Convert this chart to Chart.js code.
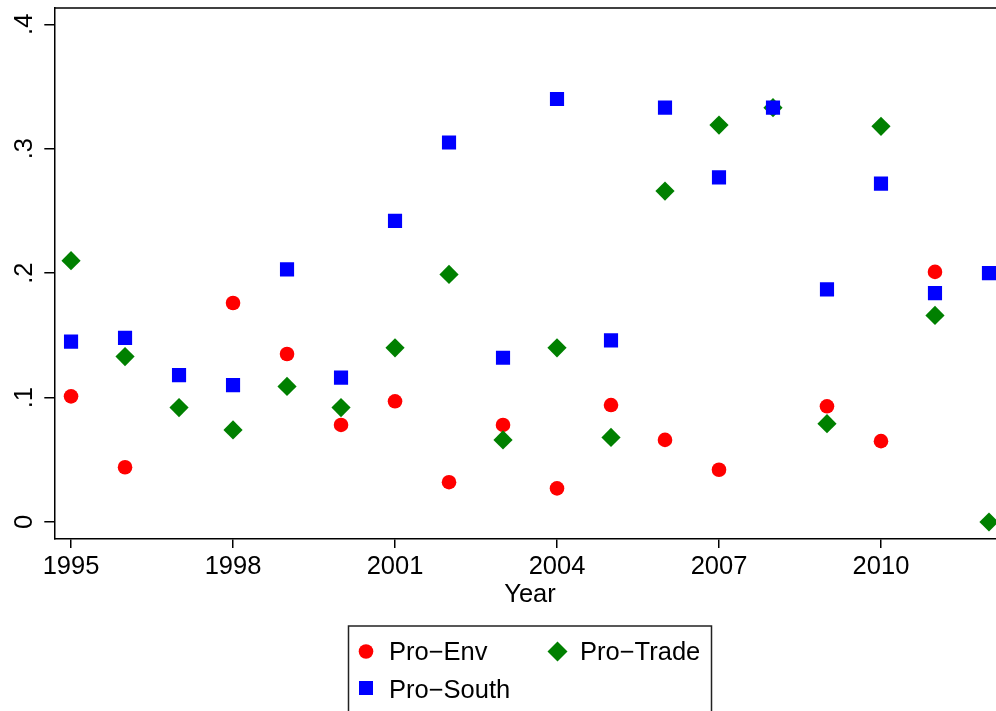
<!DOCTYPE html>
<html><head><meta charset="utf-8">
<script src="https://cdn.jsdelivr.net/npm/chart.js@4"></script>
<style>html,body{margin:0;padding:0;background:#fff;overflow:hidden}#wrap{width:996px;height:711px;position:relative}</style>
</head><body><div id="wrap"><canvas id="c" width="996" height="711"></canvas></div>
<script>
const years = [1995,1996,1997,1998,1999,2000,2001,2002,2003,2004,2005,2006,2007,2008,2009,2010,2011,2012];
const proEnv   = [0.101,0.044,null,0.176,0.135,0.078,0.097,0.032,0.078,0.027,0.094,0.066,0.042,null,0.093,0.065,0.201,null];
const proTrade = [0.210,0.133,0.092,0.074,0.109,0.092,0.140,0.199,0.066,0.140,0.068,0.266,0.319,0.333,0.079,0.318,0.166,0.000];
const proSouth = [0.145,0.148,0.118,0.110,0.203,0.116,0.242,0.305,0.132,0.340,0.146,0.333,0.277,0.333,0.187,0.272,0.184,0.200];
const xTicks = [1995,1998,2001,2004,2007,2010];
const yTicks = [0,0.1,0.2,0.3,0.4];
const yTickLabels = ['0','.1','.2','.3','.4'];
const seriesNames = ['Pro\u2212Env','Pro\u2212Trade','Pro\u2212South'];
const xTitle = 'Year';

const FONT = '"Liberation Sans", Arial, Helvetica, sans-serif';
const FS = 25.5;
const RED = '#ff0000', GREEN = '#008000', BLUE = '#0000ff';

function pts(arr){ return years.map((y,i)=>({x:y,y:arr[i]})).filter(p=>p.y!==null); }

const deco = {
  id:'deco',
  afterDraw(chart){
    const ctx = chart.ctx, a = chart.chartArea, ys = chart.scales.y;
    ctx.save();
    ctx.strokeStyle = '#000'; ctx.lineWidth = 1.5;
    ctx.beginPath(); ctx.moveTo(a.left, a.top); ctx.lineTo(chart.width+5, a.top); ctx.stroke();
    ctx.fillStyle = '#000';
    ctx.font = FS + 'px ' + FONT;
    ctx.textAlign = 'center'; ctx.textBaseline = 'alphabetic';
    yTicks.forEach((v,i)=>{
      const y = ys.getPixelForValue(v);
      ctx.save(); ctx.translate(32, y); ctx.rotate(-Math.PI/2);
      ctx.fillText(yTickLabels[i], 0, 0); ctx.restore();
    });
    ctx.textAlign = 'center';
    ctx.fillText(xTitle, 530, 602);
    ctx.lineWidth = 1.5; ctx.strokeStyle = '#222';
    ctx.strokeRect(348.5, 626, 363, 200);
    ctx.textAlign = 'left';
    ctx.fillStyle = RED; ctx.beginPath(); ctx.arc(366, 651.5, 7.3, 0, Math.PI*2); ctx.fill();
    ctx.fillStyle = '#000'; ctx.fillText(seriesNames[0], 389, 660);
    ctx.fillStyle = GREEN; ctx.beginPath();
    ctx.moveTo(557.5, 641.5); ctx.lineTo(567.5, 651.5); ctx.lineTo(557.5, 661.5); ctx.lineTo(547.5, 651.5); ctx.closePath(); ctx.fill();
    ctx.fillStyle = '#000'; ctx.fillText(seriesNames[1], 580, 660);
    ctx.fillStyle = BLUE; ctx.fillRect(359, 681, 14, 14);
    ctx.fillStyle = '#000'; ctx.fillText(seriesNames[2], 389, 698);
    ctx.restore();
  }
};

new Chart(document.getElementById('c'), {
  type:'scatter',
  data:{ datasets:[
    {label:seriesNames[0], data:pts(proEnv), pointStyle:'circle', pointRadius:7.3, backgroundColor:RED, borderColor:RED, borderWidth:0, order:3},
    {label:seriesNames[1], data:pts(proTrade), pointStyle:'rectRot', pointRadius:9.6, backgroundColor:GREEN, borderColor:GREEN, borderWidth:0, order:2},
    {label:seriesNames[2], data:pts(proSouth), pointStyle:'rect', pointRadius:10, backgroundColor:BLUE, borderColor:BLUE, borderWidth:0, order:1}
  ]},
  options:{
    responsive:false, animation:false, devicePixelRatio:1,
    layout:{autoPadding:false, padding:{top:8,left:0,right:0,bottom:0}},
    plugins:{legend:{display:false}, tooltip:{enabled:false}},
    scales:{
      x:{type:'linear', min:1994.69, max:2012.13,
        afterBuildTicks(s){ s.ticks = xTicks.map(v=>({value:v})); },
        afterFit(s){ s.height = 172; s.paddingRight = 0; s.paddingLeft = 0; },
        ticks:{font:{family:FONT,size:FS}, color:'#000', padding:4, maxRotation:0, autoSkip:false, callback:v=>String(v)},
        grid:{drawOnChartArea:false, drawTicks:true, tickLength:9, color:'#000', lineWidth:1.5},
        border:{display:true, color:'#000', width:1.5}
      },
      y:{type:'linear', min:-0.01365, max:0.4131,
        afterBuildTicks(s){ s.ticks = yTicks.map(v=>({value:v})); },
        afterFit(s){ s.width = 54.3; },
        ticks:{display:false},
        grid:{drawOnChartArea:false, drawTicks:true, tickLength:10, color:'#000', lineWidth:1.5},
        border:{display:true, color:'#000', width:1.5}
      }
    }
  },
  plugins:[deco]
});
</script></body></html>
